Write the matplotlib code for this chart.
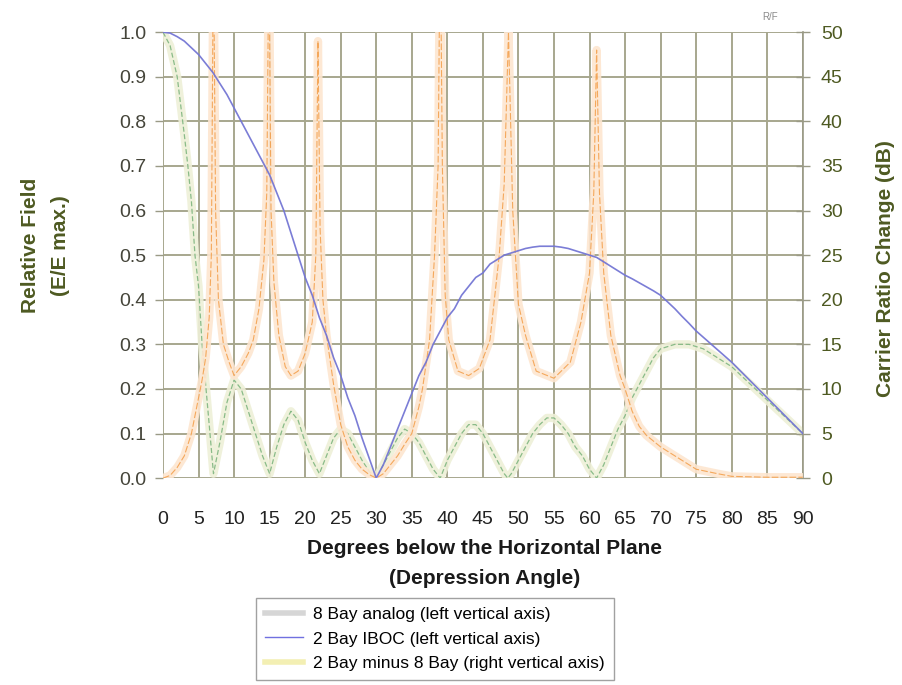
import matplotlib
matplotlib.use("Agg")
import matplotlib.pyplot as plt
from matplotlib.lines import Line2D

# ---------------- data ----------------
analog_deg = [0, 1, 2, 3, 3.5, 4, 4.5, 5, 5.5, 6, 6.5, 7.1, 8, 9, 10, 11, 12, 13, 14, 15,
              16, 17, 18, 19, 20, 21, 22, 23, 24, 25, 26, 27, 28, 29, 30, 31, 32, 33, 34,
              35, 36, 37, 38, 39, 40, 41, 42, 43, 44, 45, 46, 47, 48, 48.5, 49, 50, 51,
              52, 53, 54, 55, 56, 57, 58, 59, 60, 61, 62, 63, 64, 65, 66, 67, 68, 69, 70,
              71, 72, 73, 74, 75, 76, 77, 78, 79, 80, 82, 84, 86, 88, 90]
analog_field = [1.0, 0.97, 0.90, 0.77, 0.70, 0.62, 0.50, 0.43, 0.30, 0.21, 0.12, 0.01, 0.08,
                0.17, 0.22, 0.20, 0.15, 0.10, 0.05, 0.01, 0.07, 0.12, 0.15, 0.13, 0.08, 0.04,
                0.01, 0.05, 0.09, 0.11, 0.10, 0.07, 0.04, 0.015, 0.0, 0.03, 0.06, 0.09, 0.11,
                0.10, 0.08, 0.05, 0.02, 0.0, 0.04, 0.07, 0.10, 0.12, 0.12, 0.10, 0.07, 0.04,
                0.01, 0.0, 0.01, 0.04, 0.07, 0.10, 0.12, 0.135, 0.135, 0.12, 0.10, 0.07, 0.05,
                0.02, 0.0, 0.03, 0.07, 0.11, 0.14, 0.18, 0.21, 0.24, 0.27, 0.29, 0.295, 0.30,
                0.30, 0.30, 0.295, 0.29, 0.28, 0.27, 0.26, 0.25, 0.22, 0.19, 0.16, 0.13, 0.10]

iboc_deg = list(range(0, 91))
iboc_field = [1.0, 0.998, 0.99, 0.98, 0.965, 0.95, 0.93, 0.91, 0.885, 0.86,
              0.83, 0.80, 0.77, 0.74, 0.71, 0.68, 0.64, 0.60, 0.55, 0.50,
              0.45, 0.41, 0.36, 0.32, 0.27, 0.23, 0.18, 0.14, 0.09, 0.045,
              0.0, 0.03, 0.07, 0.11, 0.15, 0.19, 0.23, 0.26, 0.30, 0.33,
              0.36, 0.38, 0.41, 0.43, 0.45, 0.46, 0.48, 0.49, 0.50, 0.505,
              0.51, 0.515, 0.518, 0.52, 0.52, 0.52, 0.518, 0.515, 0.51, 0.505,
              0.50, 0.495, 0.485, 0.475, 0.465, 0.455, 0.447, 0.438, 0.429, 0.42,
              0.41, 0.395, 0.38, 0.363, 0.347, 0.33, 0.316, 0.302, 0.288, 0.274,
              0.26, 0.244, 0.228, 0.212, 0.196, 0.18, 0.164, 0.148, 0.132, 0.116, 0.10]

diff_deg = [0, 1, 2, 3, 4, 5, 5.5, 6, 6.5, 6.8, 7.1, 7.4, 7.8, 8.5, 9.3, 10, 11, 12, 12.7,
            13.5, 14.2, 14.6, 14.9, 15.2, 15.6, 16.3, 17.2, 18, 19, 20, 21, 21.5, 21.8, 22.1,
            22.5, 23, 24, 25, 26, 27, 28, 29, 30, 31, 32, 33, 34, 35, 36, 36.5, 37.5, 38.2,
            38.7, 39, 39.3, 39.7, 40.2, 41.5, 43, 44.5, 46, 47.3, 48, 48.6, 49.2, 50, 51,
            52.5, 55, 57.3, 58.8, 60, 60.6, 61, 61.4, 62, 63, 64.3, 65, 66, 67, 68, 70, 72,
            75, 78, 80, 85, 90]
diff_db = [0, 0.3, 1.2, 2.5, 5, 9, 11, 13.5, 18, 25, 60, 30, 20, 15, 13, 11.5, 12.5, 14,
           15.5, 19, 24.5, 32, 60, 30, 22, 16, 12.5, 11.5, 12, 14, 17.5, 25, 49, 28, 20, 16,
           10.5, 6, 3.5, 2, 1, 0.4, 0, 0.5, 1.5, 2.5, 3.8, 5, 8, 10, 15.5, 25, 35, 62, 35,
           20.5, 15.5, 12, 11.5, 12.3, 15.5, 25, 33, 50, 30, 19.5, 16, 12, 11.2, 13, 17.5,
           23, 32, 48, 32, 23, 16, 11.5, 10, 7.5, 5.8, 4.8, 3.5, 2.5, 1, 0.5, 0.2, 0.1, 0.1]

x_ticks = list(range(0, 91, 5))
left_ticks = [0.0, 0.1, 0.2, 0.3, 0.4, 0.5, 0.6, 0.7, 0.8, 0.9, 1.0]
right_ticks = list(range(0, 51, 5))
legend_labels = ["8 Bay analog (left vertical axis)",
                 "2 Bay IBOC (left vertical axis)",
                 "2 Bay minus 8 Bay (right vertical axis)"]

# ---------------- styling ----------------
plt.rcParams['font.family'] = ['Liberation Sans', 'DejaVu Sans']
OLIVE = '#4e5a22'
GRID = '#a7a78e'

fig = plt.figure(figsize=(9.03, 6.85), dpi=100)
ax = fig.add_axes([0.1805, 0.302, 0.7085, 0.651])
ax2 = ax.twinx()

ax.set_xlim(0, 90)
ax.set_ylim(0, 1.0)
ax2.set_ylim(0, 50)

ax.set_xticks(x_ticks)
ax.set_yticks(left_ticks)
ax.set_yticklabels([f"{v:.1f}" for v in left_ticks])
ax2.set_yticks(right_ticks)

ax.grid(True, color=GRID, linewidth=1.4)
ax.set_axisbelow(True)
for sp in ['top', 'bottom', 'left']:
    ax.spines[sp].set_visible(False)
for sp in ['top', 'bottom', 'left']:
    ax2.spines[sp].set_visible(False)
ax.spines['right'].set_visible(False)
ax2.spines['right'].set_color('#9a9a86')
ax2.spines['right'].set_linewidth(1.2)

ax.tick_params(axis='x', length=0, pad=24, labelsize=14, labelcolor='#222222')
ax.tick_params(axis='y', length=6, width=1.0, color='#9a9a86', pad=6,
               labelsize=14, labelcolor='#45453a')
ax2.tick_params(axis='y', direction='inout', length=10, width=1.0, color='#9a9a86',
                pad=8, labelsize=14, labelcolor=OLIVE)

# series: wide pale band + thin line
ax.plot(analog_deg, analog_field, color='#eef0d8', linewidth=6, alpha=0.9,
        solid_capstyle='round', zorder=3)
ax.plot(analog_deg, analog_field, color='#78b27a', linewidth=0.9, alpha=0.85,
        linestyle=(0, (4, 2)), zorder=4)

ax2.plot(diff_deg, diff_db, color='#fde6d0', linewidth=6, alpha=0.9, zorder=3)
ax2.plot(diff_deg, diff_db, color='#f0861c', linewidth=0.8, alpha=0.65,
         linestyle=(0, (6, 2)), zorder=4)

ax2.plot(iboc_deg, [v * 50 for v in iboc_field], color='#7476d4', linewidth=1.2,
         alpha=0.95, zorder=5)

# axis labels
fig.text(0.034, 0.642, "Relative Field", rotation=90, ha='center', va='center',
         fontsize=15, fontweight='bold', color=OLIVE)
fig.text(0.067, 0.642, "(E/E max.)", rotation=90, ha='center', va='center',
         fontsize=15, fontweight='bold', color=OLIVE)
fig.text(0.981, 0.608, "Carrier Ratio Change (dB)", rotation=90, ha='center', va='center',
         fontsize=15, fontweight='bold', color=OLIVE)
fig.text(0.537, 1 - 548 / 685, "Degrees below the Horizontal Plane", ha='center',
         va='center', fontsize=15, fontweight='bold', color='#1a1a1a')
fig.text(0.537, 1 - 578 / 685, "(Depression Angle)", ha='center',
         va='center', fontsize=15, fontweight='bold', color='#1a1a1a')
fig.text(0.853, 1 - 17 / 685, "R/F", ha='center', va='center', fontsize=7,
         color='#8a8a8a')

# legend
handles = [Line2D([], [], color='#d6d6d6', linewidth=4),
           Line2D([], [], color='#7070e0', linewidth=1.0),
           Line2D([], [], color='#f3efb3', linewidth=4)]
leg = fig.legend(handles, legend_labels, loc='upper left',
                 bbox_to_anchor=(256 / 903, 1 - 598 / 685), fontsize=12.5,
                 frameon=True, fancybox=False, handlelength=2.2, handletextpad=0.6,
                 borderpad=0.5, labelspacing=0.55, borderaxespad=0)
leg.get_frame().set_edgecolor('#8a8a8a')
leg.get_frame().set_linewidth(1.0)

fig.savefig("out.png", dpi=100)
